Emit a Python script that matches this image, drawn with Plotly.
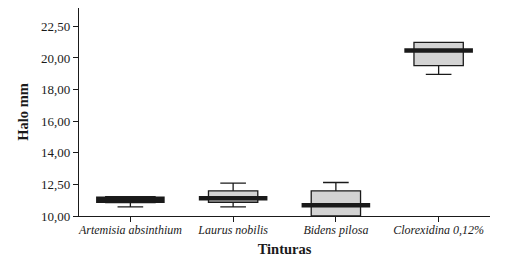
import plotly.graph_objects as go

categories = ["Artemisia absinthium", "Laurus nobilis", "Bidens pilosa", "Clorexidina 0,12%"]
q1 = [10.84, 10.87, 10.0, 19.52]
median = [11.03, 11.13, 10.68, 20.47]
q3 = [11.22, 11.59, 11.59, 20.98]
lowerfence = [10.58, 10.58, 10.0, 18.96]
upperfence = [11.22, 12.08, 12.12, 20.98]
tick_vals = [10, 12, 14, 16, 18, 20, 22]
tick_text = ["10,00", "12,50", "14,00", "16,00", "18,00", "20,00", "22,50"]

font_family = "Liberation Serif"
median_line_widths = [6.5, 4.5, 4.5, 4.5]

fig = go.Figure()
fig.add_trace(go.Box(
    x=categories, q1=q1, median=median, q3=q3,
    lowerfence=lowerfence, upperfence=upperfence,
    fillcolor="#d3d3d3", line=dict(color="#1a1a1a", width=1.3),
    width=0.48, whiskerwidth=0.52, boxpoints=False, showlegend=False,
    hoverinfo="skip",
))
fig.add_trace(go.Scatter(
    x=categories, y=median, mode="markers",
    marker=dict(symbol="line-ew", size=49, line=dict(color="#1a1a1a", width=median_line_widths)),
    showlegend=False, hoverinfo="skip",
))

fig.update_layout(
    width=505, height=258,
    margin=dict(l=71, r=23, t=0, b=50, pad=0),
    paper_bgcolor="white", plot_bgcolor="white",
    font=dict(family=font_family, color="#1a1a1a", size=13),
)
fig.update_xaxes(
    type="category", range=[-0.5, 3.5], automargin=False,
    showline=True, linecolor="#1a1a1a", linewidth=1.3,
    ticks="outside", ticklen=5, tickcolor="#1a1a1a", ticklabelstandoff=-3,
    tickfont=dict(family=font_family, size=12, style="italic"),
    showgrid=False, zeroline=False,
    title=dict(text="<b>Tinturas</b>", font=dict(family=font_family, size=14.5), standoff=8),
)
fig.update_yaxes(
    range=[10, 23.16], tickvals=tick_vals, ticktext=tick_text, automargin=False,
    showline=True, linecolor="#1a1a1a", linewidth=1.3,
    ticks="outside", ticklen=5, tickcolor="#1a1a1a",
    tickfont=dict(family=font_family, size=13),
    showgrid=False, zeroline=False,
    title=dict(text="<b>Halo mm</b>", font=dict(family=font_family, size=14.5), standoff=8),
)

fig.write_html("out.html")
